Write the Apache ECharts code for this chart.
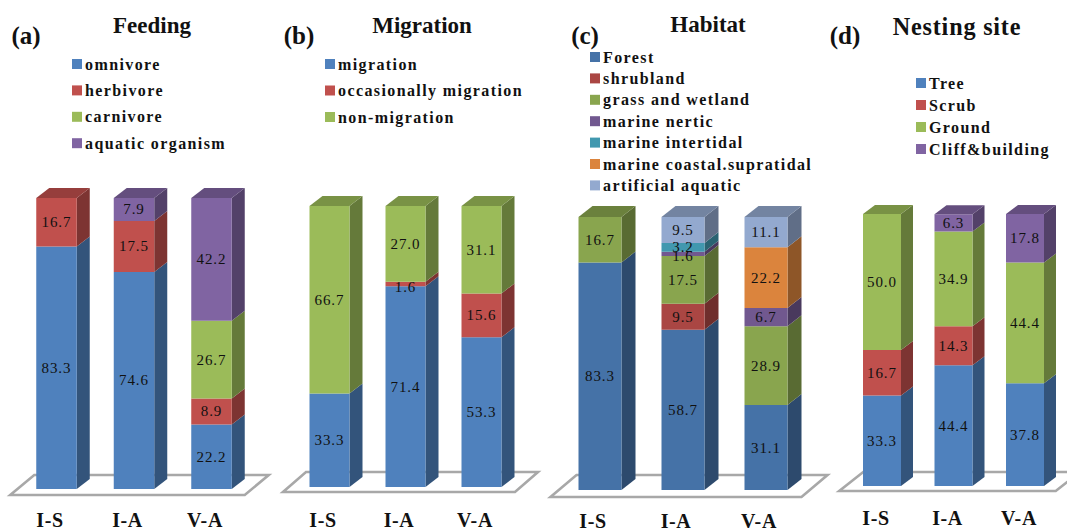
<!DOCTYPE html>
<html>
<head>
<meta charset="utf-8">
<style>
html,body{margin:0;padding:0;background:#fff}
#c{width:1067px;height:531px}
/* the reference's text is visibly letter-spaced */
svg text[style*="16px"]{letter-spacing:1.4px !important}
svg text[style*="15px"]{letter-spacing:.9px !important}
svg text[style*="20px"]{letter-spacing:.6px !important}
svg text[style*="24.2px"]{letter-spacing:.8px !important}
</style>
<script src="https://cdn.jsdelivr.net/npm/echarts@6/dist/echarts.min.js"></script>
</head>
<body>
<div id="c"></div>
<script>
const categories = ['I-S', 'I-A', 'V-A'];

// (a) Feeding
const omnivore = [83.3, 74.6, 22.2];
const herbivore = [16.7, 17.5, 8.9];
const carnivore = [0, 0, 26.7];
const aquaticOrganism = [0, 7.9, 42.2];

// (b) Migration
const migration = [33.3, 71.4, 53.3];
const occasionallyMigration = [0, 1.6, 15.6];
const nonMigration = [66.7, 27.0, 31.1];

// (c) Habitat
const forest = [83.3, 58.7, 31.1];
const shrubland = [0, 9.5, 0];
const grassAndWetland = [16.7, 17.5, 28.9];
const marineNertic = [0, 1.6, 6.7];
const marineIntertidal = [0, 3.2, 0];
const marineCoastalSupratidal = [0, 0, 22.2];
const artificialAquatic = [0, 9.5, 11.1];

// (d) Nesting site
const tree = [33.3, 44.4, 37.8];
const scrub = [16.7, 14.3, 0];
const ground = [50.0, 34.9, 44.4];
const cliffBuilding = [0, 6.3, 17.8];

const BLUE = '#4f81bd', RED = '#c0504d', GREEN = '#9bbb59', PURPLE = '#8064a2';

const panels = [
  { title: 'Feeding', titleSize: 23, letter: '(a)', titleX: 152, titleY: 13, letterX: 26, letterY: 22,
    grid: { left: 11.25, top: 198, width: 232.5, height: 291 }, margin: 24, barW: 40.5, dx: 13, dy: -10,
    floor: { pad: 1, below: 6, above: 14, skew: 24 },
    legend: { left: 72, top: 56, itemGap: 10.4 },
    series: [['omnivore', omnivore, BLUE], ['herbivore', herbivore, RED], ['carnivore', carnivore, GREEN], ['aquatic organism', aquaticOrganism, PURPLE]] },
  { title: 'Migration', titleSize: 23, letter: '(b)', titleX: 422, titleY: 13, letterX: 299, letterY: 22,
    grid: { left: 285, top: 206, width: 228, height: 281 }, margin: 26, barW: 40, dx: 13, dy: -10,
    floor: { pad: 2, below: 5, above: 15, skew: 23 },
    legend: { left: 325, top: 56, itemGap: 10.5 },
    series: [['migration', migration, BLUE], ['occasionally migration', occasionallyMigration, RED], ['non-migration', nonMigration, GREEN]] },
  { title: 'Habitat', titleSize: 23, letter: '(c)', titleX: 708, titleY: 12, letterX: 585, letterY: 22,
    grid: { left: 551.5, top: 217, width: 249, height: 273 }, margin: 24, barW: 43, dx: 14, dy: -11,
    floor: { pad: 1, below: 7, above: 15, skew: 26 },
    legend: { left: 590, top: 49, itemGap: 5.4 },
    series: [['Forest', forest, '#4572a7'], ['shrubland', shrubland, '#aa4643'], ['grass and wetland', grassAndWetland, '#89a54e'], ['marine nertic', marineNertic, '#71588f'], ['marine intertidal', marineIntertidal, '#4198af'], ['marine coastal.supratidal', marineCoastalSupratidal, '#db843d'], ['artificial aquatic', artificialAquatic, '#93a9cf']] },
  { title: 'Nesting site', titleSize: 24.2, letter: '(d)', titleX: 957, titleY: 14, letterX: 845, letterY: 22,
    grid: { left: 840.25, top: 214, width: 214.5, height: 272 }, margin: 25, barW: 38, dx: 12, dy: -9,
    floor: { pad: 1, below: 5, above: 14, skew: 24 },
    legend: { left: 916, top: 75, itemGap: 6 },
    series: [['Tree', tree, BLUE], ['Scrub', scrub, RED], ['Ground', ground, GREEN], ['Cliff&building', cliffBuilding, PURPLE]] }
];

function shade(hex, k) {
  const n = parseInt(hex.slice(1), 16);
  const f = s => Math.round(((n >> s) & 255) * k);
  return 'rgb(' + f(16) + ',' + f(8) + ',' + f(0) + ')';
}

function barSeries(panel, gridIndex, name, values, color, rows) {
  const data = values.map((v, i) => {
    const start = rows[i];
    rows[i] += v;
    return [i, start, start + v, v];
  });
  const totals = categories.map((_, i) => panel.series.reduce((s, r) => s + r[1][i], 0));
  return {
    type: 'custom', name, xAxisIndex: gridIndex, yAxisIndex: gridIndex, silent: true, z: 3,
    itemStyle: { color }, encode: { x: 0, y: [1, 2] }, data,
    renderItem(params, api) {
      const v = api.value(3);
      if (!v) return null;
      const i = api.value(0);
      const pB = api.coord([i, api.value(1)]);
      const pT = api.coord([i, api.value(2)]);
      const { barW, dx, dy } = panel;
      const x0 = pB[0] + dx / 2 - barW / 2, x1 = x0 + barW;
      const yB = pB[1], yT = pT[1];
      const children = [
        { type: 'polygon', shape: { points: [[x1, yT], [x1 + dx, yT + dy], [x1 + dx, yB + dy], [x1, yB]] }, style: { fill: shade(color, 0.65) } },
        { type: 'rect', shape: { x: x0, y: yT, width: barW, height: yB - yT }, style: { fill: color } }
      ];
      if (api.value(2) >= totals[i] - 0.001) {
        children.push({ type: 'polygon', shape: { points: [[x0, yT], [x0 + dx, yT + dy], [x1 + dx, yT + dy], [x1, yT]] }, style: { fill: shade(color, 0.78) } });
      }
      const nudge = yB - yT < 6 ? 2.5 : 0;
      children.push({ type: 'text', z2: 50, style: { text: v.toFixed(1), x: (x0 + x1) / 2, y: (yB + yT) / 2 + nudge, align: 'center', verticalAlign: 'middle', fill: '#111', font: 'normal 15px "Liberation Serif"' } });
      return { type: 'group', children };
    }
  };
}

const titles = [], grids = [], xAxes = [], yAxes = [], legends = [], series = [];
panels.forEach((p, g) => {
  titles.push({ text: p.title, left: p.titleX, top: p.titleY, textAlign: 'center', padding: 0, textStyle: { fontFamily: 'Liberation Serif', fontWeight: 'bold', fontSize: p.titleSize, lineHeight: 24, color: '#111' } });
  titles.push({ text: p.letter, left: p.letterX, top: p.letterY, textAlign: 'center', padding: 0, textStyle: { fontFamily: 'Liberation Serif', fontWeight: 'bold', fontSize: 25, lineHeight: 26, color: '#111' } });
  grids.push(Object.assign({ outerBoundsMode: 'none' }, p.grid));
  xAxes.push({ type: 'category', gridIndex: g, data: categories, axisLine: { show: false }, axisTick: { show: false }, axisLabel: { margin: p.margin, fontFamily: 'Liberation Serif', fontWeight: 'bold', fontSize: 20, lineHeight: 14, color: '#111' } });
  yAxes.push({ type: 'value', gridIndex: g, min: 0, max: 100, show: false, splitLine: { show: false } });
  legends.push({ orient: 'vertical', left: p.legend.left, top: p.legend.top, itemGap: p.legend.itemGap, padding: 0, itemWidth: 10, itemHeight: 10, icon: 'rect', selectedMode: false,
    data: p.series.map(s => s[0]), textStyle: { fontFamily: 'Liberation Serif', fontWeight: 'bold', fontSize: 16, lineHeight: 16, color: '#111', padding: [0, 0, 0, -2] } });
  series.push({
    type: 'custom', xAxisIndex: g, yAxisIndex: g, silent: true, z: 1, data: [[0, 0]], encode: { x: 0, y: 1 },
    renderItem(params, api) {
      const r = params.coordSys, f = p.floor;
      const l = r.x - f.pad, rr = r.x + r.width + f.pad, b = r.y + r.height + f.below, t = r.y + r.height - f.above;
      return { type: 'polygon', shape: { points: [[l, b], [rr, b], [rr + f.skew, t], [l + f.skew, t]] }, style: { fill: '#fff', stroke: '#a8a8a8', lineWidth: 2.6 } };
    }
  });
  const rows = categories.map(() => 0);
  p.series.forEach(s => series.push(barSeries(p, g, s[0], s[1], s[2], rows)));
});

const chart = echarts.init(document.getElementById('c'), null, { renderer: 'svg', width: 1067, height: 531 });
chart.setOption({ animation: false, backgroundColor: '#fff', title: titles, grid: grids, xAxis: xAxes, yAxis: yAxes, legend: legends, tooltip: { show: false }, series });
</script>
</body>
</html>
